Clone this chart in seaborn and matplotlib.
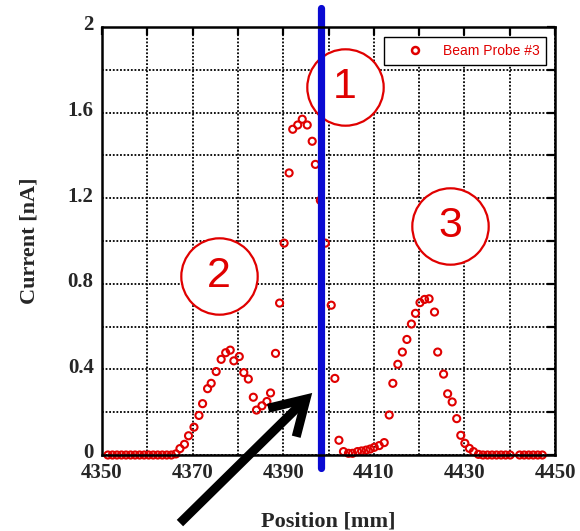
import numpy as np
import pandas as pd
import matplotlib
matplotlib.use("Agg")
import matplotlib.pyplot as plt
import matplotlib.transforms as mtransforms
from matplotlib.ticker import MultipleLocator, FixedLocator, FixedFormatter
from matplotlib.lines import Line2D
import seaborn as sns

# Beam probe #3 scan: position [mm] and measured current [nA]
position_mm = [
    4351.3, 4352.3, 4353.3, 4354.3, 4355.3, 4356.3, 4357.3, 4358.3, 4359.3,
    4360.3, 4361.3, 4362.3, 4363.3, 4364.3, 4365.3,
    4366.3, 4367.2, 4368.2, 4369.1, 4370.3, 4371.4, 4372.2, 4373.3, 4374.1,
    4375.2, 4376.3, 4377.3, 4378.3, 4379.1, 4380.3, 4381.3, 4382.3, 4383.4,
    4384.1, 4385.3, 4386.4, 4387.2, 4388.3, 4389.2, 4390.2,
    4391.3, 4392.1, 4393.2, 4394.2, 4395.3, 4396.4, 4397.1, 4398.2, 4399.3,
    4400.6, 4401.4, 4402.3, 4403.3, 4404.4, 4405.3, 4406.4, 4407.3, 4408.3,
    4409.2, 4410.1, 4411.2, 4412.3, 4413.4, 4414.2, 4415.3, 4416.3, 4417.3,
    4418.3, 4419.2, 4420.2, 4421.2, 4422.2, 4423.4, 4424.1, 4425.4, 4426.3,
    4427.3, 4428.3, 4429.2, 4430.1, 4431.1, 4432.0, 4433.1,
    4434.1, 4435.1, 4436.1, 4437.1, 4438.1, 4439.1, 4440.1,
    4442.2, 4443.2, 4444.2, 4445.2, 4446.2, 4447.2,
]
current_nA = [
    0, 0, 0, 0, 0, 0, 0, 0, 0,
    0, 0, 0, 0, 0, 0,
    0.005, 0.03, 0.05, 0.09, 0.13, 0.185, 0.24, 0.31, 0.335,
    0.39, 0.447, 0.478, 0.49, 0.44, 0.46, 0.385, 0.355, 0.27,
    0.21, 0.23, 0.25, 0.29, 0.475, 0.71, 0.99,
    1.318, 1.522, 1.542, 1.569, 1.542, 1.466, 1.358, 1.19, 0.99,
    0.70, 0.358, 0.069, 0.016, 0.008, 0.008, 0.016, 0.019, 0.023,
    0.028, 0.036, 0.044, 0.058, 0.187, 0.335, 0.424, 0.481, 0.54,
    0.612, 0.662, 0.712, 0.727, 0.73, 0.668, 0.481, 0.378, 0.286,
    0.248, 0.17, 0.092, 0.055, 0.031, 0.016, 0.003,
    0, 0, 0, 0, 0, 0, 0,
    0, 0, 0, 0, 0, 0,
]

x_ticks = [4350, 4370, 4390, 4410, 4430, 4450]
x_ticklabels = ["4350", "4370", "4390", "4410", "4430", "4450"]
y_ticks = [0, 0.4, 0.8, 1.2, 1.6, 2.0]
y_ticklabels = ["0", "0.4", "0.8", "1.2", "1.6", "2"]

# Probe position marker and the numbered regions
probe_x = 4398.4
region_labels = ["1", "2", "3"]
region_x = [4403.6, 4375.8, 4426.8]
region_y = [1.72, 0.836, 1.07]

df = pd.DataFrame({"Position": position_mm, "Current": current_nA})

sns.set_style("white")
plt.rcParams["font.family"] = ["Liberation Serif", "DejaVu Serif"]

red = "#e00000"
fig = plt.figure(figsize=(5.8, 5.31), dpi=100)
ax = fig.add_axes([0.1759, 0.1431, 0.7810, 0.8061])

# numbered region circles (white filled, red outline)
for lab, cx, cy in zip(region_labels, region_x, region_y):
    ax.plot([cx], [cy], marker="o", ms=55, mfc="white", mec=red, mew=1.6,
            zorder=3, clip_on=False)
    ax.text(cx, cy, lab, ha="center", va="center", fontsize=31, color=red,
            family=["Liberation Sans", "DejaVu Sans"], zorder=3.5)

sns.scatterplot(data=df, x="Position", y="Current", ax=ax, marker="o", s=26,
                facecolor="none", edgecolor=red, linewidth=1.5, legend=False,
                zorder=4, clip_on=False)

ax.axvline(probe_x, ymin=-0.030, ymax=1.044, color="#0a0ad2", lw=5.2,
           clip_on=False, zorder=5)

ax.annotate("", xy=(4396.4, 0.29), xytext=(4367.2, -0.318),
            xycoords="data", textcoords="data", annotation_clip=False,
            arrowprops=dict(arrowstyle="->,head_length=1.0,head_width=0.6",
                            mutation_scale=24, lw=6.5, color="black",
                            capstyle="butt", joinstyle="miter",
                            shrinkA=0, shrinkB=0),
            zorder=6)

ax.set_xlim(4350, 4450)
ax.set_ylim(0, 2)
ax.xaxis.set_major_locator(FixedLocator(x_ticks))
ax.xaxis.set_major_formatter(FixedFormatter(x_ticklabels))
ax.xaxis.set_minor_locator(MultipleLocator(10))
ax.yaxis.set_major_locator(FixedLocator(y_ticks))
ax.yaxis.set_major_formatter(FixedFormatter(y_ticklabels))
ax.yaxis.set_minor_locator(MultipleLocator(0.2))

ax.grid(which="both", color="black", linestyle=(0, (1, 1)), lw=1.3, zorder=1)
ax.set_axisbelow(True)
ax.tick_params(which="both", direction="in", top=True, right=True,
               length=6, width=1.6, color="black", labelsize=15)
ax.tick_params(axis="x", pad=6)
ax.tick_params(axis="y", pad=6)
lift = mtransforms.ScaledTranslation(0, 3 / 72, fig.dpi_scale_trans)
for lbl in ax.get_yticklabels():
    lbl.set_transform(lbl.get_transform() + lift)
for lbl in ax.get_xticklabels() + ax.get_yticklabels():
    lbl.set_fontweight("bold")
for sp in ax.spines.values():
    sp.set_linewidth(1.8)
    sp.set_color("black")
    sp.set_zorder(7)

ax.set_xlabel("Position [mm]", fontsize=16, fontweight="bold", labelpad=20)
ax.set_ylabel("Current [nA]", fontsize=16, fontweight="bold", labelpad=20)

handle = Line2D([], [], ls="none", marker="o", ms=5, mfc="none", mec=red, mew=1.8)
leg = ax.legend([handle], ["Beam Probe #3"], loc="upper right",
                bbox_to_anchor=(0.996, 0.993), fancybox=False, framealpha=1,
                edgecolor="black", handlelength=3.6, handletextpad=0.15,
                borderpad=0.5, prop={"family": ["Liberation Sans", "DejaVu Sans"], "size": 10})
leg.get_frame().set_linewidth(1.0)
for t in leg.get_texts():
    t.set_color(red)
leg.set_zorder(8)

fig.savefig("out.png", dpi=100)
